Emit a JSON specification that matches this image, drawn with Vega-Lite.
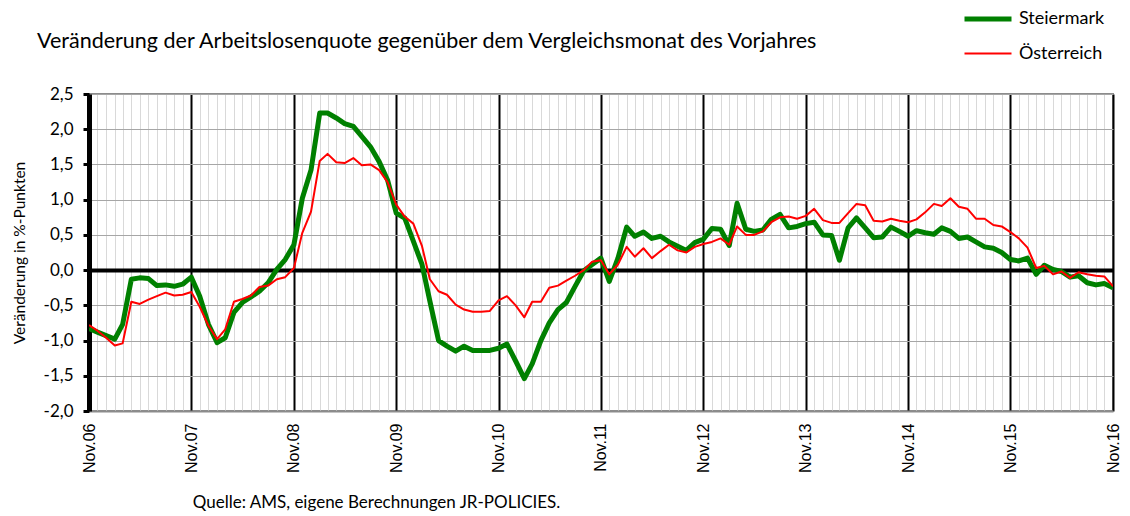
{
  "$schema": "https://vega.github.io/schema/vega-lite/v6.json",
  "width": 1024,
  "height": 317,
  "autosize": "none",
  "padding": {"left": 89, "top": 94, "right": 17, "bottom": 105},
  "background": "white",
  "config": {
    "view": {"stroke": "#8c8c8c", "strokeWidth": 2},
    "font": "Lato"
  },
  "title": {
    "text": "Veränderung der Arbeitslosenquote gegenüber dem Vergleichsmonat des Vorjahres",
    "anchor": "start",
    "frame": "group",
    "dx": -52,
    "offset": 0,
    "dy": 76,
    "baseline": "alphabetic",
    "font": "Lato",
    "fontSize": 21.5,
    "fontWeight": "normal",
    "color": "black"
  },
  "data": {
    "values": [
      {"m": "2006-11", "Steiermark": -0.83, "Österreich": -0.78},
      {"m": "2006-12", "Steiermark": -0.88, "Österreich": -0.86},
      {"m": "2007-01", "Steiermark": -0.93, "Österreich": -0.96},
      {"m": "2007-02", "Steiermark": -0.98, "Österreich": -1.07},
      {"m": "2007-03", "Steiermark": -0.77, "Österreich": -1.04},
      {"m": "2007-04", "Steiermark": -0.13, "Österreich": -0.45},
      {"m": "2007-05", "Steiermark": -0.11, "Österreich": -0.48},
      {"m": "2007-06", "Steiermark": -0.12, "Österreich": -0.42},
      {"m": "2007-07", "Steiermark": -0.22, "Österreich": -0.37},
      {"m": "2007-08", "Steiermark": -0.21, "Österreich": -0.32},
      {"m": "2007-09", "Steiermark": -0.23, "Österreich": -0.36},
      {"m": "2007-10", "Steiermark": -0.20, "Österreich": -0.35},
      {"m": "2007-11", "Steiermark": -0.10, "Österreich": -0.31},
      {"m": "2007-12", "Steiermark": -0.37, "Österreich": -0.52},
      {"m": "2008-01", "Steiermark": -0.77, "Österreich": -0.79},
      {"m": "2008-02", "Steiermark": -1.03, "Österreich": -0.98},
      {"m": "2008-03", "Steiermark": -0.96, "Österreich": -0.84},
      {"m": "2008-04", "Steiermark": -0.60, "Österreich": -0.45},
      {"m": "2008-05", "Steiermark": -0.46, "Österreich": -0.41},
      {"m": "2008-06", "Steiermark": -0.38, "Österreich": -0.36},
      {"m": "2008-07", "Steiermark": -0.30, "Österreich": -0.24},
      {"m": "2008-08", "Steiermark": -0.18, "Österreich": -0.22},
      {"m": "2008-09", "Steiermark": 0.01, "Österreich": -0.13},
      {"m": "2008-10", "Steiermark": 0.15, "Österreich": -0.10},
      {"m": "2008-11", "Steiermark": 0.36, "Österreich": 0.03},
      {"m": "2008-12", "Steiermark": 1.02, "Österreich": 0.53},
      {"m": "2009-01", "Steiermark": 1.42, "Österreich": 0.83},
      {"m": "2009-02", "Steiermark": 2.23, "Österreich": 1.55},
      {"m": "2009-03", "Steiermark": 2.23, "Österreich": 1.65},
      {"m": "2009-04", "Steiermark": 2.16, "Österreich": 1.53},
      {"m": "2009-05", "Steiermark": 2.08, "Österreich": 1.52},
      {"m": "2009-06", "Steiermark": 2.04, "Österreich": 1.59},
      {"m": "2009-07", "Steiermark": 1.90, "Österreich": 1.49},
      {"m": "2009-08", "Steiermark": 1.75, "Österreich": 1.50},
      {"m": "2009-09", "Steiermark": 1.54, "Österreich": 1.42},
      {"m": "2009-10", "Steiermark": 1.28, "Österreich": 1.25},
      {"m": "2009-11", "Steiermark": 0.81, "Österreich": 0.93},
      {"m": "2009-12", "Steiermark": 0.74, "Österreich": 0.76},
      {"m": "2010-01", "Steiermark": 0.41, "Österreich": 0.66},
      {"m": "2010-02", "Steiermark": 0.08, "Österreich": 0.34},
      {"m": "2010-03", "Steiermark": -0.44, "Österreich": -0.13},
      {"m": "2010-04", "Steiermark": -1.00, "Österreich": -0.30},
      {"m": "2010-05", "Steiermark": -1.08, "Österreich": -0.35},
      {"m": "2010-06", "Steiermark": -1.15, "Österreich": -0.49},
      {"m": "2010-07", "Steiermark": -1.08, "Österreich": -0.56},
      {"m": "2010-08", "Steiermark": -1.14, "Österreich": -0.59},
      {"m": "2010-09", "Steiermark": -1.14, "Österreich": -0.59},
      {"m": "2010-10", "Steiermark": -1.14, "Österreich": -0.58},
      {"m": "2010-11", "Steiermark": -1.11, "Österreich": -0.43},
      {"m": "2010-12", "Steiermark": -1.05, "Österreich": -0.37},
      {"m": "2011-01", "Steiermark": -1.29, "Österreich": -0.50},
      {"m": "2011-02", "Steiermark": -1.54, "Österreich": -0.67},
      {"m": "2011-03", "Steiermark": -1.33, "Österreich": -0.45},
      {"m": "2011-04", "Steiermark": -1.00, "Österreich": -0.45},
      {"m": "2011-05", "Steiermark": -0.75, "Österreich": -0.25},
      {"m": "2011-06", "Steiermark": -0.56, "Österreich": -0.22},
      {"m": "2011-07", "Steiermark": -0.46, "Österreich": -0.15},
      {"m": "2011-08", "Steiermark": -0.23, "Österreich": -0.08},
      {"m": "2011-09", "Steiermark": -0.01, "Österreich": 0.00},
      {"m": "2011-10", "Steiermark": 0.08, "Österreich": 0.12},
      {"m": "2011-11", "Steiermark": 0.17, "Österreich": 0.14},
      {"m": "2011-12", "Steiermark": -0.16, "Österreich": -0.06},
      {"m": "2012-01", "Steiermark": 0.17, "Österreich": 0.08},
      {"m": "2012-02", "Steiermark": 0.61, "Österreich": 0.33},
      {"m": "2012-03", "Steiermark": 0.48, "Österreich": 0.19},
      {"m": "2012-04", "Steiermark": 0.54, "Österreich": 0.31},
      {"m": "2012-05", "Steiermark": 0.45, "Österreich": 0.17},
      {"m": "2012-06", "Steiermark": 0.48, "Österreich": 0.27},
      {"m": "2012-07", "Steiermark": 0.40, "Österreich": 0.36},
      {"m": "2012-08", "Steiermark": 0.34, "Österreich": 0.28},
      {"m": "2012-09", "Steiermark": 0.28, "Österreich": 0.25},
      {"m": "2012-10", "Steiermark": 0.39, "Österreich": 0.33},
      {"m": "2012-11", "Steiermark": 0.44, "Österreich": 0.37},
      {"m": "2012-12", "Steiermark": 0.59, "Österreich": 0.40},
      {"m": "2013-01", "Steiermark": 0.58, "Österreich": 0.45},
      {"m": "2013-02", "Steiermark": 0.35, "Österreich": 0.36},
      {"m": "2013-03", "Steiermark": 0.95, "Österreich": 0.62},
      {"m": "2013-04", "Steiermark": 0.58, "Österreich": 0.50},
      {"m": "2013-05", "Steiermark": 0.55, "Österreich": 0.50},
      {"m": "2013-06", "Steiermark": 0.57, "Österreich": 0.55},
      {"m": "2013-07", "Steiermark": 0.72, "Österreich": 0.68},
      {"m": "2013-08", "Steiermark": 0.79, "Österreich": 0.75},
      {"m": "2013-09", "Steiermark": 0.60, "Österreich": 0.76},
      {"m": "2013-10", "Steiermark": 0.62, "Österreich": 0.73},
      {"m": "2013-11", "Steiermark": 0.66, "Österreich": 0.77},
      {"m": "2013-12", "Steiermark": 0.68, "Österreich": 0.87},
      {"m": "2014-01", "Steiermark": 0.50, "Österreich": 0.71},
      {"m": "2014-02", "Steiermark": 0.49, "Österreich": 0.67},
      {"m": "2014-03", "Steiermark": 0.14, "Österreich": 0.67},
      {"m": "2014-04", "Steiermark": 0.60, "Österreich": 0.81},
      {"m": "2014-05", "Steiermark": 0.74, "Österreich": 0.94},
      {"m": "2014-06", "Steiermark": 0.60, "Österreich": 0.92},
      {"m": "2014-07", "Steiermark": 0.46, "Österreich": 0.70},
      {"m": "2014-08", "Steiermark": 0.47, "Österreich": 0.69},
      {"m": "2014-09", "Steiermark": 0.61, "Österreich": 0.73},
      {"m": "2014-10", "Steiermark": 0.55, "Österreich": 0.70},
      {"m": "2014-11", "Steiermark": 0.48, "Österreich": 0.68},
      {"m": "2014-12", "Steiermark": 0.56, "Österreich": 0.72},
      {"m": "2015-01", "Steiermark": 0.53, "Österreich": 0.82},
      {"m": "2015-02", "Steiermark": 0.51, "Österreich": 0.94},
      {"m": "2015-03", "Steiermark": 0.60, "Österreich": 0.91},
      {"m": "2015-04", "Steiermark": 0.55, "Österreich": 1.02},
      {"m": "2015-05", "Steiermark": 0.45, "Österreich": 0.90},
      {"m": "2015-06", "Steiermark": 0.47, "Österreich": 0.87},
      {"m": "2015-07", "Steiermark": 0.40, "Österreich": 0.73},
      {"m": "2015-08", "Steiermark": 0.33, "Österreich": 0.73},
      {"m": "2015-09", "Steiermark": 0.31, "Österreich": 0.64},
      {"m": "2015-10", "Steiermark": 0.25, "Österreich": 0.62},
      {"m": "2015-11", "Steiermark": 0.15, "Österreich": 0.54},
      {"m": "2015-12", "Steiermark": 0.13, "Österreich": 0.45},
      {"m": "2016-01", "Steiermark": 0.17, "Österreich": 0.32},
      {"m": "2016-02", "Steiermark": -0.06, "Österreich": 0.03},
      {"m": "2016-03", "Steiermark": 0.07, "Österreich": 0.06},
      {"m": "2016-04", "Steiermark": 0.01, "Österreich": -0.06},
      {"m": "2016-05", "Steiermark": -0.02, "Österreich": -0.02},
      {"m": "2016-06", "Steiermark": -0.10, "Österreich": -0.11},
      {"m": "2016-07", "Steiermark": -0.08, "Österreich": -0.03},
      {"m": "2016-08", "Steiermark": -0.18, "Österreich": -0.06},
      {"m": "2016-09", "Steiermark": -0.21, "Österreich": -0.08},
      {"m": "2016-10", "Steiermark": -0.19, "Österreich": -0.09},
      {"m": "2016-11", "Steiermark": -0.25, "Österreich": -0.23}
    ]
  },
  "transform": [
    {"fold": ["Steiermark", "Österreich"], "as": ["region", "v"]}
  ],
  "mark": {"type": "line", "strokeJoin": "round", "clip": true},
  "encoding": {
    "x": {
      "field": "m",
      "type": "temporal",
      "scale": {"type": "utc", "domain": ["2006-11-01", "2016-11-01"], "nice": false},
      "axis": {
        "tickCount": {"interval": "month", "step": 1},
        "labelExpr": "utcmonth(datum.value) === 10 ? 'Nov.' + utcFormat(datum.value, '%y') : ''",
        "labelOverlap": false,
        "labelBound": false,
        "labelFlush": false,
        "labelAngle": 270,
        "labelAlign": "right",
        "labelBaseline": "middle",
        "labelPadding": 12,
        "labelFont": "Liberation Sans",
        "labelFontSize": 16,
        "labelColor": "black",
        "ticks": false,
        "domain": true,
        "domainColor": "#8c8c8c",
        "domainWidth": 2,
        "grid": true,
        "gridColor": {"condition": {"test": "utcmonth(datum.value) === 10", "value": "black"}, "value": "#d9d9d9"},
        "gridWidth": {"condition": {"test": "utcmonth(datum.value) === 10", "value": 2}, "value": 1},
        "gridOpacity": 1,
        "title": "Quelle: AMS, eigene Berechnungen JR-POLICIES.",
        "titleFont": "Lato",
        "titleFontSize": 17,
        "titleFontWeight": "normal",
        "titleColor": "black",
        "titleX": 287,
        "titleY": 91,
        "titleAlign": "center",
        "titleBaseline": "middle"
      }
    },
    "y": {
      "field": "v",
      "type": "quantitative",
      "scale": {"domain": [-2, 2.5], "nice": false, "zero": false},
      "axis": {
        "values": [-2, -1.5, -1, -0.5, 0, 0.5, 1, 1.5, 2, 2.5],
        "labelExpr": "replace(replace(format(datum.value, '.1f'), '.', ','), '−', '-')",
        "labelFont": "Lato",
        "labelFontSize": 17,
        "labelColor": "black",
        "labelPadding": 10,
        "ticks": true,
        "tickColor": "black",
        "tickSize": 6,
        "tickWidth": 3,
        "domain": true,
        "domainColor": "black",
        "domainWidth": 5,
        "grid": true,
        "gridColor": {"condition": {"test": "datum.value === 0", "value": "black"}, "value": "#a6a6a6"},
        "gridWidth": {"condition": {"test": "datum.value === 0", "value": 4}, "value": 1},
        "gridOpacity": 1,
        "title": "Veränderung in %-Punkten",
        "titleFont": "Lato",
        "titleFontSize": 15.5,
        "titleFontWeight": "normal",
        "titleColor": "black",
        "titlePadding": 16
      }
    },
    "color": {
      "field": "region",
      "type": "nominal",
      "scale": {"domain": ["Steiermark", "Österreich"], "range": ["#008000", "#ff0000"]},
      "legend": {
        "title": null,
        "orient": "none",
        "legendX": 873,
        "legendY": -101,
        "symbolType": "stroke",
        "symbolSize": 2209,
        "rowPadding": -23,
        "labelFont": "Lato",
        "labelFontSize": 18,
        "labelColor": "black",
        "labelOffset": 5
      }
    },
    "strokeWidth": {
      "field": "region",
      "type": "nominal",
      "scale": {"domain": ["Steiermark", "Österreich"], "range": [5, 2]},
      "legend": {
        "title": null,
        "orient": "none",
        "legendX": 873,
        "legendY": -101,
        "symbolType": "stroke",
        "symbolSize": 2209,
        "rowPadding": -23,
        "labelFont": "Lato",
        "labelFontSize": 18,
        "labelColor": "black",
        "labelOffset": 5
      }
    },
    "order": {"field": "m", "type": "temporal"}
  }
}
